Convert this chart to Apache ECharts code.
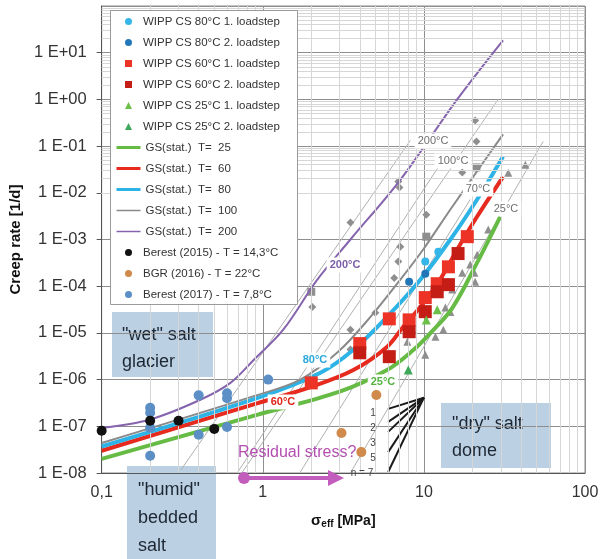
<!DOCTYPE html>
<html>
<head>
<meta charset="utf-8">
<script src="https://cdn.jsdelivr.net/npm/echarts@6/dist/echarts.min.js"></script>
<style>
  html, body { margin: 0; padding: 0; background: #fff; }
  #chart { width: 602px; height: 559px; }
</style>
</head>
<body>
<div id="chart"></div>
<script>
// Effective stress [MPa] vs. creep rate [1/d]

// WIPP clean salt measurements
const wipp80Step1 = [[10.2, 3.4e-4], [12.3, 5.5e-4]];
const wipp80Step2 = [[8.1, 1.25e-4], [10.2, 1.85e-4]];
const wipp60Step1 = [[2.0, 8.5e-7], [4.0, 5.9e-6], [6.1, 2.0e-5], [8.1, 1.9e-5], [10.2, 5.7e-5], [12.1, 1.13e-4], [14.2, 2.6e-4], [18.6, 1.15e-3]];
const wipp60Step2 = [[4.0, 3.75e-6], [6.1, 3.1e-6], [8.1, 1.06e-5], [10.2, 2.85e-5], [12.1, 7.6e-5], [14.2, 1.08e-4], [16.3, 5.0e-4]];
const wipp25Step1 = [[10.35, 1.9e-5], [12.1, 3.15e-5]];
const wipp25Step2 = [[8.0, 1.6e-6]];

// GS(stat.) model curves for several temperatures
const gs25 = [[0.1, 2.0e-8], [0.92, 1.76e-7], [3.0, 5.5e-7], [5.9, 1.6e-6], [8.6, 4.3e-6], [11, 1.0e-5], [15, 3.4e-5], [21.4, 3.2e-4], [29.8, 3.1e-3]];
const gs60 = [[0.1, 3.0e-8], [0.92, 3.1e-7], [2.0, 7.0e-7], [3.65, 1.6e-6], [5.9, 5.0e-6], [7.45, 1.36e-5], [9.5, 3.6e-5], [12.6, 1.38e-4], [16.1, 6.1e-4], [21.4, 3.1e-3], [31, 2.2e-2]];
const gs80 = [[0.1, 3.7e-8], [0.92, 4.0e-7], [2.28, 1.4e-6], [3.65, 4.35e-6], [5.9, 2.2e-5], [9.5, 1.38e-4], [14.6, 1.0e-3], [21.4, 7.2e-3], [31, 6.0e-2]];
const gs100 = [[0.1, 4.4e-8], [0.92, 4.65e-7], [1.71, 1.0e-6], [2.95, 4.0e-6], [4.66, 2.2e-5], [7.14, 1.38e-4], [9.9, 6.1e-4], [14.6, 4.4e-3], [23.4, 4.5e-2], [31, 0.178]];
const gs200 = [[0.1, 9.2e-8], [0.2, 1.4e-7], [0.41, 3.7e-7], [0.63, 8.5e-7], [0.875, 2.6e-6], [1.34, 1.17e-5], [2.18, 1.38e-4], [3.5, 1.0e-3], [7.14, 1.9e-2], [16.1, 1.0], [31, 18.4]];

// Field / laboratory data
const berest2015 = [[0.1, 8.0e-8], [0.2, 1.31e-7], [0.3, 1.31e-7], [0.5, 8.8e-8]];
const bgr2016 = [[5.07, 4.7e-7], [3.08, 7.2e-8], [4.09, 2.8e-8]];
const berest2017 = [[0.2, 2.5e-7], [0.2, 1.95e-7], [0.2, 9.3e-8], [0.2, 2.35e-8], [0.4, 4.6e-7], [0.4, 6.6e-8], [0.6, 5.1e-7], [0.6, 4.0e-7], [0.6, 9.7e-8], [1.08, 1.0e-6]];

// Literature data shown in grey
const greyDiamonds = [[20.8, 0.355], [21.2, 0.126], [17.3, 0.0272], [10.35, 3.4e-3], [6.94, 0.0174], [7.05, 0.013], [3.5, 2.3e-3], [7.14, 7.0e-4], [6.94, 3.4e-4], [6.55, 1.5e-4], [5.0, 2.7e-5], [3.5, 1.17e-5], [3.5, 4.4e-6], [2.03, 3.6e-5]];
const greySquares = [[21.2, 0.035], [10.35, 1.15e-3], [2.0, 7.6e-5]];
const greyTriangles = [[42.6, 0.040], [33.4, 0.027], [25.1, 1.63e-3], [21.4, 4.7e-4], [19.4, 2.9e-4], [17.3, 1.95e-4], [20.6, 1.95e-4], [20.8, 1.25e-4], [15.0, 8.5e-5], [13.6, 3.5e-5], [14.6, 2.8e-5], [11.8, 8.3e-6], [8.47, 1.17e-5], [7.9, 6.5e-6], [10.2, 3.4e-6], [13.2, 1.17e-5]];

// Thin grey power-law reference lines
const refLines = [
  [[0.31, 1.16e-8], [8.24, 0.132]],
  [[0.74, 1.0e-8], [28.9, 1.0]],
  [[0.70, 1.05e-8], [12.6, 0.0404]],
  [[1.71, 1.05e-8], [19.4, 7.2e-3]],
  [[3.5, 1.0e-8], [55, 0.126]]
];

// Stress-exponent fan: apex and end points for n = 1, 2, 3, 5, 7
const fanApex = [10, 4.1e-7];
const fanEnds = [[6.0, 2.36e-7], [6.0, 1.24e-7], [6.0, 7.6e-8], [6.0, 2.8e-8], [6.0, 1.05e-8]];
const fanLabels = ['1', '2', '3', '5', 'n = 7'];

const xTickLabels = { 0.1: '0,1', 1: '1', 10: '10', 100: '100' };

const FONT = 'Liberation Sans, Arial, sans-serif';

const chart = echarts.init(document.getElementById('chart'), null, { renderer: 'canvas' });

// minor log grid positions (2..9 within each decade)
const minorX = [], minorY = [];
for (let e = -1; e <= 1; e++) for (let k = 2; k <= 9; k++) minorX.push({ xAxis: k * Math.pow(10, e) });
for (let e = -8; e <= 1; e++) for (let k = 2; k <= 9; k++) minorY.push({ yAxis: k * Math.pow(10, e) });

function scatter(name, data, symbol, size, color, z) {
  return { name, type: 'scatter', data, symbol, symbolSize: size, z: z || 6,
    itemStyle: { color, opacity: 1 }, emphasis: { disabled: true } };
}
function curve(name, data, color, width, z) {
  return { name, type: 'line', data, symbol: 'none', smooth: 0.35, z: z || 4,
    lineStyle: { color, width }, itemStyle: { color: 'rgba(0,0,0,0)' }, emphasis: { disabled: true } };
}

const series = [
  { name: 'minor-grid', type: 'line', data: [], symbol: 'none', z: 0, silent: true,
    markLine: { silent: true, symbol: ['none', 'none'], label: { show: false },
      lineStyle: { color: '#d6d6d6', width: 1, type: 'solid' }, animation: false,
      data: minorX.concat(minorY) } }
];
refLines.forEach((seg, i) => series.push({ name: 'ref' + i, type: 'line', data: seg, symbol: 'none', z: 1,
  lineStyle: { color: '#b0b0b0', width: 1 }, silent: true }));
series.push(scatter('grey-d', greyDiamonds, 'diamond', 8, '#8f8f8f', 2));
series.push(scatter('grey-s', greySquares, 'rect', 8, '#8f8f8f', 2));
series.push(scatter('grey-t', greyTriangles, 'triangle', 8, '#8f8f8f', 2));
fanEnds.forEach((p, i) => series.push({ name: 'fan' + i, type: 'line', data: [p, fanApex], symbol: 'none', z: 3,
  lineStyle: { color: '#1a1a1a', width: 2 }, silent: true }));

const WIPP = ['WIPP CS 80°C 1. loadstep', 'WIPP CS 80°C 2. loadstep', 'WIPP CS 60°C 1. loadstep',
  'WIPP CS 60°C 2. loadstep', 'WIPP CS 25°C 1. loadstep', 'WIPP CS 25°C 2. loadstep'];
const GS = ['GS(stat.)  T=  25', 'GS(stat.)  T=  60', 'GS(stat.)  T=  80', 'GS(stat.)  T=  100', 'GS(stat.)  T=  200'];
const FIELD = ['Berest (2015) - T = 14,3°C', 'BGR (2016) - T = 22°C', 'Berest (2017) - T = 7,8°C'];

series.push(
  scatter(WIPP[0], wipp80Step1, 'circle', 8, '#35b6e8'),
  scatter(WIPP[1], wipp80Step2, 'circle', 8, '#2277b8'),
  scatter(WIPP[2], wipp60Step1, 'rect', 13, '#ec3326'),
  scatter(WIPP[3], wipp60Step2, 'rect', 13, '#c41d16'),
  scatter(WIPP[4], wipp25Step1, 'triangle', 9, '#6cc04a'),
  scatter(WIPP[5], wipp25Step2, 'triangle', 9, '#3ea85a'),
  curve(GS[0], gs25, '#66bb44', 4),
  curve(GS[1], gs60, '#e62a1e', 4),
  curve(GS[2], gs80, '#2db3e6', 4),
  curve(GS[3], gs100, '#8a8a8a', 2),
  curve(GS[4], gs200, '#8564ad', 2),
  scatter(FIELD[0], berest2015, 'circle', 10, '#111111', 7),
  scatter(FIELD[1], bgr2016, 'circle', 10, '#d08a4c', 7),
  scatter(FIELD[2], berest2017, 'circle', 10, '#5b8fc6', 5)
);

const legendText = { fontSize: 11.5, color: '#333', fontFamily: FONT };
const legends = [
  { data: WIPP, orient: 'vertical', left: 125, top: 15.5, itemWidth: 7, itemHeight: 7, itemGap: 9, padding: 0,
    textStyle: Object.assign({ padding: [0, 0, 0, 6] }, legendText), selectedMode: false, z: 20 },
  { data: GS.map((n, i) => ({ name: n, lineStyle: { width: i < 3 ? 3 : 1.5 } })), orient: 'vertical', left: 115, top: 141.5,
    itemWidth: 24, itemHeight: 7, itemGap: 9, padding: 0, textStyle: legendText, selectedMode: false, z: 20 },
  { data: FIELD, orient: 'vertical', left: 125, top: 246.5, itemWidth: 7, itemHeight: 7, itemGap: 9, padding: 0,
    textStyle: Object.assign({ padding: [0, 0, 0, 6] }, legendText), selectedMode: false, z: 20 }
];

function box(x, y, w, h, lines, tx, ty, lh) {
  return { type: 'group', z: 50, children: [
    { type: 'rect', shape: { x, y, width: w, height: h }, style: { fill: '#bcd0e3' } },
    { type: 'text', style: { x: tx, y: ty, text: lines.join('\n'), font: '18px ' + FONT, fill: '#1d2733', lineHeight: lh } }
  ] };
}
function tlabel(x, y, text, color, bold) {
  return { type: 'text', z: 40, style: { x, y, text, fill: color, align: 'center', verticalAlign: 'middle',
    font: (bold ? 'bold ' : '') + '11px ' + FONT, backgroundColor: '#ffffff', padding: [2, 3] } };
}

const graphics = [
  { type: 'rect', z: 15, shape: { x: 110.5, y: 10.5, width: 187, height: 294 },
    style: { fill: '#ffffff', stroke: '#9a9a9a', lineWidth: 1 } },
  box(112, 312, 101, 65, ['"wet" salt', 'glacier'], 122, 322, 27),
  box(127, 466, 89, 93, ['"humid"', 'bedded', 'salt'], 138, 476, 28),
  box(441, 403, 110, 65, ['"dry" salt', 'dome'], 452, 411, 27),
  tlabel(345, 265, '200°C', '#7b5ea7', true),
  tlabel(315, 360, '80°C', '#2aa8dc', true),
  tlabel(283, 402, '60°C', '#dd2418', true),
  tlabel(383, 382, '25°C', '#55b342', true),
  tlabel(433, 141, '200°C', '#6f6f6f', false),
  tlabel(453, 161, '100°C', '#6f6f6f', false),
  tlabel(478, 189, '70°C', '#6f6f6f', false),
  tlabel(506, 209, '25°C', '#6f6f6f', false),
  { type: 'text', z: 40, style: { x: 238, y: 453, text: 'Residual stress?', fill: '#b34fb0', verticalAlign: 'middle', font: '16px ' + FONT } },
  { type: 'line', z: 40, shape: { x1: 244, y1: 478, x2: 332, y2: 478 }, style: { stroke: '#c25cbd', lineWidth: 4 } },
  { type: 'polygon', z: 40, shape: { points: [[328, 470], [344, 478], [328, 486]] }, style: { fill: '#c25cbd' } },
  { type: 'circle', z: 40, shape: { cx: 244, cy: 478, r: 6 }, style: { fill: '#c25cbd' } }
];
fanLabels.forEach((t, i) => graphics.push({ type: 'text', z: 40, style: { x: i === 4 ? 362 : 373, y: 413 + 15 * i, text: t,
  fill: '#444', align: 'center', verticalAlign: 'middle', font: '10px ' + FONT } }));

chart.setOption({
  animation: false,
  backgroundColor: '#ffffff',
  textStyle: { fontFamily: FONT },
  grid: { left: 101, right: 17, top: 6, bottom: 86, show: true, borderColor: '#8a8a8a', borderWidth: 1, backgroundColor: '#fff' },
  legend: legends,
  xAxis: {
    type: 'log', logBase: 10, min: 0.1, max: 100, interval: 1,
    axisLine: { show: true, lineStyle: { color: '#555' } },
    axisTick: { show: false },
    axisLabel: { margin: 12, fontSize: 16, color: '#333', formatter: v => xTickLabels[v] !== undefined ? xTickLabels[v] : '' },
    splitLine: { show: true, lineStyle: { color: '#8e8e8e', width: 1 } },
    name: '{s|σ}{sub|eff}{b| [MPa]}', nameLocation: 'middle', nameGap: 40,
    nameTextStyle: { rich: { s: { fontSize: 15, fontWeight: 'bold', color: '#111' },
      sub: { fontSize: 10, fontWeight: 'bold', color: '#111', verticalAlign: 'bottom', padding: [6, 0, 0, 0] },
      b: { fontSize: 14, fontWeight: 'bold', color: '#111' } } }
  },
  yAxis: {
    type: 'log', logBase: 10, min: 1e-8, max: 100, interval: 1,
    axisLine: { show: true, lineStyle: { color: '#555' } },
    axisTick: { show: true, length: 5, lineStyle: { color: '#555' } },
    axisLabel: { margin: 15, fontSize: 16.5, color: '#333', showMaxLabel: false,
      formatter: v => { const e = Math.round(Math.log10(v)); return '1 E' + (e < 0 ? '-' : '+') + String(Math.abs(e)).padStart(2, '0'); } },
    splitLine: { show: true, lineStyle: { color: '#8e8e8e', width: 1 } },
    name: 'Creep rate [1/d]', nameLocation: 'middle', nameRotate: 90, nameGap: 71,
    nameTextStyle: { fontSize: 15, fontWeight: 'bold', color: '#111' }
  },
  series,
  graphic: graphics
});
</script>
</body>
</html>
